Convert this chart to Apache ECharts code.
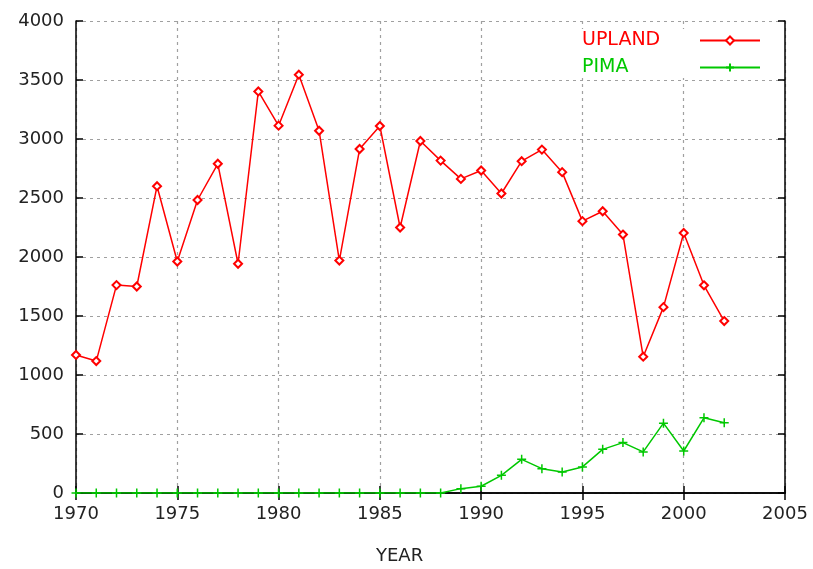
<!DOCTYPE html>
<html>
<head>
<meta charset="utf-8">
<script src="https://cdn.jsdelivr.net/npm/echarts@6/dist/echarts.min.js"></script>
<style>html,body{margin:0;padding:0;background:#fff;}#c{width:813px;height:569px;}</style>
</head>
<body>
<div id="c"></div>
<script>
const years = [1970,1971,1972,1973,1974,1975,1976,1977,1978,1979,1980,1981,1982,1983,1984,1985,1986,1987,1988,1989,1990,1991,1992,1993,1994,1995,1996,1997,1998,1999,2000,2001,2002];
const upland = [1170,1118,1762,1750,2600,1962,2483,2790,1943,3403,3113,3545,3070,1970,2915,3110,2250,2983,2817,2662,2733,2538,2812,2910,2719,2304,2388,2190,1155,1575,2204,1760,1457];
const pima = [0,0,0,0,0,0,0,0,0,0,0,0,0,0,0,0,0,0,0,37,57,150,285,206,178,221,370,427,348,592,356,637,595];
const xTicks = [1970,1975,1980,1985,1990,1995,2000,2005];
const yTicks = [0,500,1000,1500,2000,2500,3000,3500,4000];

const RED = '#ff0000', GREEN = '#00c800';
const FONT = 'DejaVu Sans';
const chart = echarts.init(document.getElementById('c'));
const frameLine = {show:true, lineStyle:{color:'#000', width:1.5}};
const tick = {show:true, inside:true, length:7, lineStyle:{color:'#000', width:1.5}};
const grid = {show:true, lineStyle:{color:'#a0a0a0', type:[3,4], width:1.2}};
chart.setOption({
  animation:false,
  backgroundColor:'#fff',
  grid:{left:76, right:28, top:21, bottom:76},
  legend:{
    left:570, top:29, orient:'vertical', align:'right',
    padding:[2,24,1,12], backgroundColor:'#fff', z:1,
    itemWidth:60, itemHeight:10, itemGap:8,
    formatter: n => '{t|' + n + '}',
    textStyle:{fontFamily:FONT, fontSize:19, lineHeight:19,
      rich:{t:{width:113, align:'left', fontFamily:FONT, fontSize:19}}},
    data:[
      {name:'UPLAND', textStyle:{color:RED}},
      {name:'PIMA', textStyle:{color:GREEN}}
    ]
  },
  graphic:[{type:'text', left:376, top:547, style:{text:'YEAR', font:'18px "DejaVu Sans"', fill:'#222'}}],
  xAxis:[
    {type:'value', min:xTicks[0], max:xTicks[xTicks.length-1], interval:5, position:'bottom',
     axisLine:frameLine, axisTick:tick, splitLine:grid,
     axisLabel:{color:'#222', fontFamily:FONT, fontSize:18, margin:12, formatter:v=>String(v)}},
    {type:'value', min:xTicks[0], max:xTicks[xTicks.length-1], interval:5, position:'top', z:3,
     axisLine:frameLine, axisTick:tick, splitLine:{show:false}, axisLabel:{show:false}}
  ],
  yAxis:[
    {type:'value', min:yTicks[0], max:yTicks[yTicks.length-1], interval:500, position:'left',
     axisLine:frameLine, axisTick:tick, splitLine:grid,
     axisLabel:{color:'#222', fontFamily:FONT, fontSize:18, margin:12, formatter:v=>String(v)}},
    {type:'value', min:yTicks[0], max:yTicks[yTicks.length-1], interval:500, position:'right', z:3,
     axisLine:frameLine, axisTick:tick, splitLine:{show:false}, axisLabel:{show:false}}
  ],
  series:[
    {name:'UPLAND', type:'line', xAxisIndex:0, yAxisIndex:0,
     data: years.map((y,i)=>[y, upland[i]]),
     symbol:'emptyDiamond', symbolSize:8,
     lineStyle:{color:RED, width:1.5}, itemStyle:{color:RED, borderColor:RED, borderWidth:1.2}},
    {name:'PIMA', type:'line', xAxisIndex:0, yAxisIndex:0,
     data: years.map((y,i)=>[y, pima[i]]),
     symbol:'path://M0 5H10M5 0V10', symbolSize:9,
     lineStyle:{color:GREEN, width:1.5}, itemStyle:{color:GREEN, borderColor:GREEN, borderWidth:1.5}}
  ]
});
</script>
</body>
</html>
